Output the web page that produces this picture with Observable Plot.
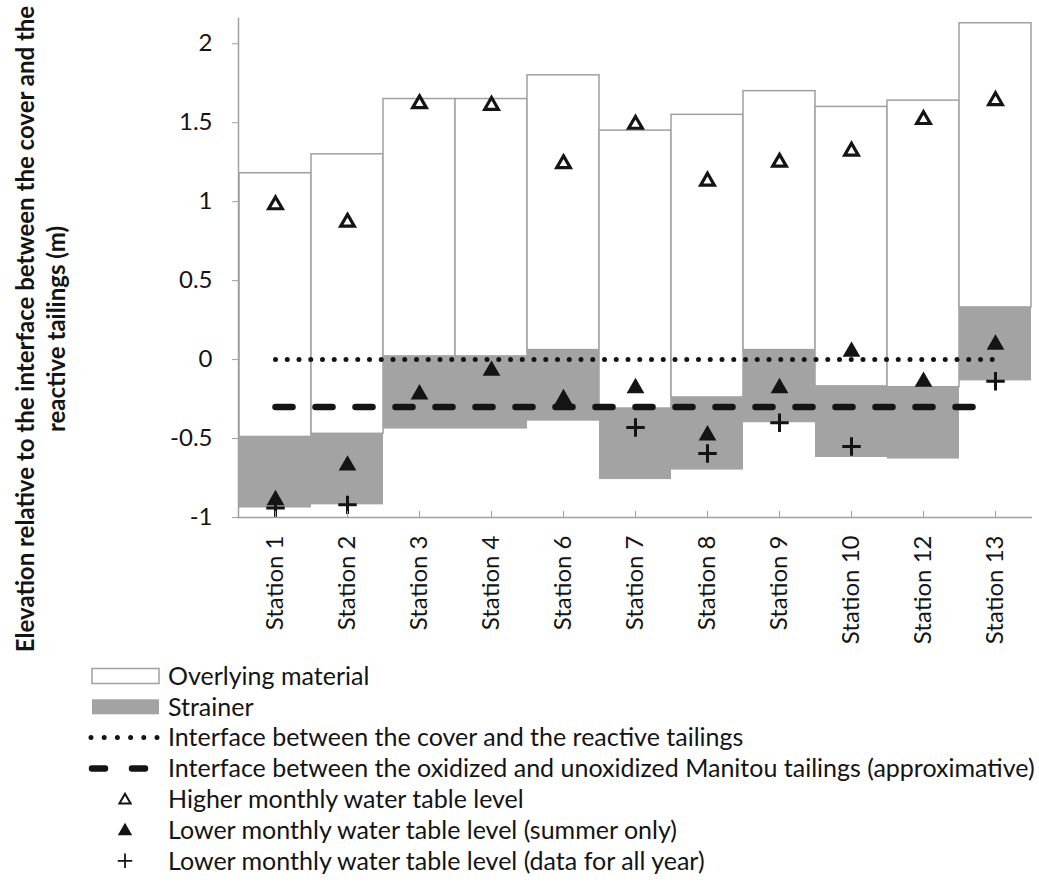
<!DOCTYPE html>
<html>
<head>
<meta charset="utf-8">
<script src="https://cdn.jsdelivr.net/npm/d3@7"></script>
<script src="https://cdn.jsdelivr.net/npm/@observablehq/plot@0.6"></script>
<style>
  html, body { margin: 0; padding: 0; background: #fff; }
  svg { display: block; }
</style>
</head>
<body>
<div id="chart"></div>
<script>
// ---- data (m, relative to the cover / reactive tailings interface) ----
const stations = ["Station 1","Station 2","Station 3","Station 4","Station 6","Station 7","Station 8","Station 9","Station 10","Station 12","Station 13"];
const coverTop       = [1.18, 1.30, 1.65, 1.65, 1.80, 1.45, 1.55, 1.70, 1.60, 1.64, 2.13];
const strainerTop    = [-0.49, -0.47, 0.02, 0.02, 0.06, -0.31, -0.24, 0.06, -0.17, -0.175, 0.33];
const strainerBottom = [-0.94, -0.92, -0.44, -0.44, -0.39, -0.76, -0.70, -0.40, -0.62, -0.63, -0.135];
const higherLevel    = [0.98, 0.87, 1.62, 1.61, 1.24, 1.49, 1.13, 1.25, 1.32, 1.52, 1.64];
const lowerSummer    = [-0.89, -0.67, -0.22, -0.07, -0.25, -0.18, -0.48, -0.18, 0.05, -0.14, 0.095];
const lowerAllYear   = [-0.94, -0.92, null, null, null, -0.43, -0.595, -0.40, -0.55, null, -0.137];
const coverInterface = 0;
const oxidizedInterface = -0.3;
const yTicks = [-1, -0.5, 0, 0.5, 1, 1.5, 2];
const yTitle1 = "Elevation relative to the interface between the cover and the";
const yTitle2 = "reactive tailings (m)";
const legendLabels = [
  "Overlying material",
  "Strainer",
  "Interface between the cover and the reactive tailings",
  "Interface between the oxidized and unoxidized Manitou tailings (approximative)",
  "Higher monthly water table level",
  "Lower monthly water table level (summer only)",
  "Lower monthly water table level (data for all year)"
];

const rows = stations.map((s, i) => ({
  station: s,
  coverTop: coverTop[i],
  strainerTop: strainerTop[i],
  strainerBottom: strainerBottom[i],
  higher: higherLevel[i],
  lowerSummer: lowerSummer[i],
  lowerAll: lowerAllYear[i],
  cover: coverInterface,
  oxid: oxidizedInterface
}));

const gray = "#a0a0a0";
const ink = "#141414";
const font = "Lato, 'Open Sans', sans-serif";

const chart = Plot.plot({
  width: 1039,
  height: 884,
  marginLeft: 238,
  marginRight: 7,
  marginTop: 18,
  marginBottom: 367,
  style: {fontFamily: font, fontSize: "24px", color: ink, background: "#fff"},
  x: {domain: stations, padding: 0, label: null},
  y: {domain: [-1, 2.16], label: null},
  marks: [
    Plot.barY(rows, {x: "station", y1: "strainerTop", y2: "coverTop", fill: "#fff", stroke: gray, strokeWidth: 1.5}),
    Plot.barY(rows, {x: "station", y1: "strainerBottom", y2: "strainerTop", fill: "#a3a3a3"}),
    Plot.line(rows, {x: "station", y: "cover", stroke: ink, strokeWidth: 5, strokeLinecap: "round", strokeDasharray: "0,11.75"}),
    Plot.line(rows, {x: "station", y: "oxid", stroke: ink, strokeWidth: 6.5, strokeLinecap: "round", strokeDasharray: "17,23"}),
    Plot.dot(rows, {x: "station", y: "higher", symbol: "triangle2", r: 6.5, stroke: ink, strokeWidth: 3.2, fill: "#fff"}),
    Plot.dot(rows.filter(d => d.lowerAll != null), {x: "station", y: "lowerAll", symbol: "plus", r: 6, stroke: ink, strokeWidth: 3}),
    Plot.dot(rows, {x: "station", y: "lowerSummer", symbol: "triangle", r: 6.6, fill: ink, stroke: "none"}),
    Plot.frame({anchor: "left", stroke: gray, strokeWidth: 1.5}),
    Plot.ruleY([-1], {stroke: gray, strokeWidth: 1.5}),
    Plot.axisY({ticks: yTicks, tickSize: 6, tickPadding: 20, stroke: gray, fontSize: 24, tickFormat: d => String(d), label: null}),
    Plot.axisX({tickSize: 6, dy: -6, stroke: gray, tickFormat: () => "", label: null}),
    Plot.axisX({tickSize: 0, tickPadding: 18, tickRotate: -90, fontSize: 24, label: null}),
    Plot.text([yTitle1], {frameAnchor: "left", textAnchor: "middle", dx: -212, dy: 61, rotate: -90, fontSize: 24, fontWeight: "bold", fill: ink}),
    Plot.text([yTitle2], {frameAnchor: "left", textAnchor: "middle", dx: -181, dy: 61, rotate: -90, fontSize: 24, fontWeight: "bold", fill: ink})
  ]
});
document.getElementById("chart").appendChild(chart);

// ---- legend (below the plot area) ----
const svg = d3.select(chart);
const lg = svg.append("g").attr("transform", "translate(0,650)").attr("font-family", font).attr("text-anchor", "start");
const rowY = i => 26 + i * 30.8;
lg.append("rect").attr("x", 92).attr("y", rowY(0) - 7.5).attr("width", 67).attr("height", 15)
  .attr("fill", "#fff").attr("stroke", gray).attr("stroke-width", 1.5);
lg.append("rect").attr("x", 92).attr("y", rowY(1) - 7.5).attr("width", 67).attr("height", 15)
  .attr("fill", "#a3a3a3");
lg.append("line").attr("x1", 91).attr("x2", 158).attr("y1", rowY(2)).attr("y2", rowY(2))
  .attr("stroke", ink).attr("stroke-width", 5).attr("stroke-linecap", "round").attr("stroke-dasharray", "0,13.2");
lg.append("line").attr("x1", 92).attr("x2", 147).attr("y1", rowY(3)).attr("y2", rowY(3))
  .attr("stroke", ink).attr("stroke-width", 6.5).attr("stroke-linecap", "round").attr("stroke-dasharray", "13,27");
lg.append("path").attr("transform", `translate(125,${rowY(4) + 1})`)
  .attr("d", d3.symbol(d3.symbolTriangle2, 90)()).attr("fill", "#fff").attr("stroke", ink).attr("stroke-width", 2);
lg.append("path").attr("transform", `translate(125,${rowY(5) + 1})`)
  .attr("d", d3.symbol(d3.symbolTriangle, 90)()).attr("fill", ink);
lg.append("path").attr("transform", `translate(125,${rowY(6)})`)
  .attr("d", d3.symbol(d3.symbolPlus, 70)()).attr("fill", "none").attr("stroke", ink).attr("stroke-width", 1.8);
legendLabels.forEach((t, i) => {
  lg.append("text").attr("x", 168).attr("y", rowY(i)).attr("dy", "0.35em")
    .attr("font-size", 25).attr("fill", ink).text(t);
});
</script>
</body>
</html>
